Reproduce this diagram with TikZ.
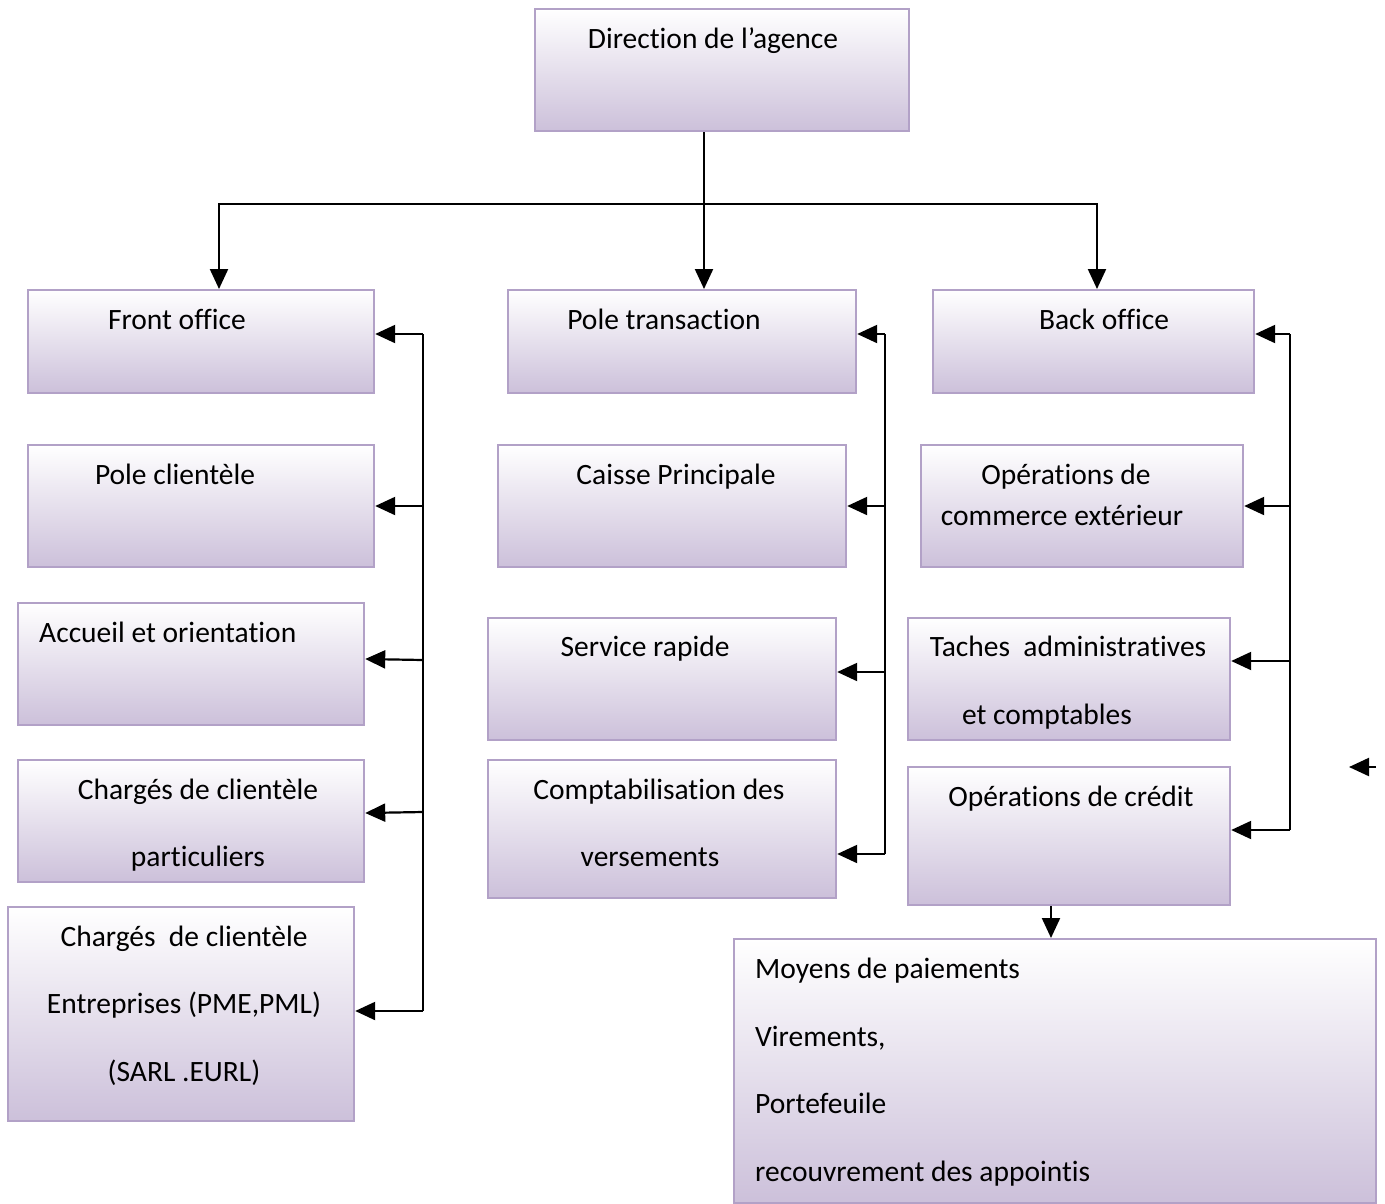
\documentclass[tikz,border=0pt]{standalone}
\usepackage{fontspec}
\setmainfont{Carlito}[RawFeature={-liga;-clig;-dlig}]
\usetikzlibrary{arrows.meta}
\definecolor{boxborder}{RGB}{178,161,199}
\definecolor{boxfill}{RGB}{204,192,218}
\begin{document}
\begin{tikzpicture}[x=1pt,y=-1pt,
  box/.style={draw=boxborder, line width=2.2pt, top color=white, bottom color=boxfill, inner sep=0pt, anchor=north west},
  txt/.style={font=\fontsize{29.5}{34}\selectfont, inner sep=0pt, anchor=mid, yshift=-8pt},
  ltxt/.style={font=\fontsize{29.5}{34}\selectfont, inner sep=0pt, anchor=mid west, yshift=-8pt},
  conn/.style={line width=2.2pt},
  arr/.style={line width=2.2pt, -{Triangle[length=20pt,width=18pt]}}]
\useasboundingbox (0,0) rectangle (1385,1203);
% boxes
\node[box, minimum width=374, minimum height=122] (dir) at (534,8) {};
\node[box, minimum width=346, minimum height=103] (fo) at (27,289) {};
\node[box, minimum width=348, minimum height=103] (pt) at (507,289) {};
\node[box, minimum width=321, minimum height=103] (bo) at (932,289) {};
\node[box, minimum width=346, minimum height=122] (pc) at (27,444) {};
\node[box, minimum width=348, minimum height=122] (cp) at (497,444) {};
\node[box, minimum width=322, minimum height=122] (oc) at (920,444) {};
\node[box, minimum width=346, minimum height=122] (ao) at (17,602) {};
\node[box, minimum width=348, minimum height=122] (sr) at (487,617) {};
\node[box, minimum width=322, minimum height=122] (ta) at (907,617) {};
\node[box, minimum width=346, minimum height=122] (cl) at (17,759) {};
\node[box, minimum width=348, minimum height=138] (cv) at (487,759) {};
\node[box, minimum width=322, minimum height=138] (cr) at (907,766) {};
\node[box, minimum width=346, minimum height=214] (ce) at (7,906) {};
\node[box, minimum width=642, minimum height=264] (mp) at (733,938) {};
% texts
\node[txt] (t1) at (713,38) {Direction de l’agence};
\node[txt] (t2) at (177,319) {Front office};
\node[txt] (t3) at (664,319) {Pole transaction};
\node[txt] (t4) at (1104,319) {Back office};
\node[txt] (t5) at (175,474) {Pole clientèle};
\node[txt] (t6) at (676,474) {Caisse Principale};
\node[txt] (t7) at (1066,474) {Opérations de};
\node[txt] (t8) at (1062,515) {commerce extérieur};
\node[ltxt] (t9) at (39,632) {Accueil et orientation};
\node[txt] (t10) at (645,646) {Service rapide};
\node[txt] (t11) at (1068,646) {Taches\ \ administratives};
\node[txt] (t12) at (1047,714) {et comptables};
\node[txt] (t13) at (198,789) {Chargés de clientèle};
\node[txt] (t14) at (198,856) {particuliers};
\node[txt] (t15) at (659,789) {Comptabilisation des};
\node[txt] (t16) at (650,856) {versements};
\node[txt] (t17) at (1071,796) {Opérations de crédit};
\node[txt] (t18) at (184,936) {Chargés\ \ de clientèle};
\node[txt] (t19) at (184,1003) {Entreprises (PME,PML)};
\node[txt] (t20) at (184,1071) {(SARL .EURL)};
\node[ltxt] (t21) at (755,968) {Moyens de paiements};
\node[ltxt] (t22) at (755,1036) {Virements,};
\node[ltxt] (t23) at (755,1103) {Portefeuile};
\node[ltxt] (t24) at (755,1171) {recouvrement des appointis};
% top connectors
\coordinate (j) at (704,204);
\coordinate (jl) at (219,204);
\coordinate (jr) at (1097,204);
\draw[arr] (dir.south -| j) -- (pt.north -| j);
\draw[arr] (j) -- (jl) -- (fo.north -| jl);
\draw[arr] (j) -- (jr) -- (bo.north -| jr);
% left bus
\coordinate (l1) at (423,334);
\coordinate (l2) at (423,506);
\coordinate (l3) at (423,660);
\coordinate (l4) at (423,812);
\coordinate (l5) at (423,1011);
\draw[conn] (l1) -- (l5);
\draw[arr] (l1) -- (l1 -| fo.east);
\draw[arr] (l2) -- (l2 -| pc.east);
\draw[arr] (l3) -- ([yshift=1pt]l3 -| ao.east);
\draw[arr] (l4) -- ([yshift=-1pt]l4 -| cl.east);
\draw[arr] (l5) -- (l5 -| ce.east);
% middle bus
\coordinate (m1) at (885,334);
\coordinate (m2) at (885,506);
\coordinate (m3) at (885,672);
\coordinate (m4) at (885,854);
\draw[conn] (m1) -- (m4);
\draw[arr] (m1) -- (m1 -| pt.east);
\draw[arr] (m2) -- (m2 -| cp.east);
\draw[arr] (m3) -- (m3 -| sr.east);
\draw[arr] (m4) -- (m4 -| cv.east);
% right bus
\coordinate (r1) at (1290,334);
\coordinate (r2) at (1290,506);
\coordinate (r3) at (1290,661);
\coordinate (r4) at (1290,830);
\draw[conn] (r1) -- (r4);
\draw[arr] (r1) -- (r1 -| bo.east);
\draw[arr] (r2) -- (r2 -| oc.east);
\draw[arr] (r3) -- (r3 -| ta.east);
\draw[arr] (r4) -- (r4 -| cr.east);
% credit to moyens
\coordinate (c1) at (1051,904);
\draw[arr] (c1 |- cr.south) -- (c1 |- mp.north);
% stray arrow
\coordinate (s1) at (1376,767);
\coordinate (s2) at (1349,767);
\draw[arr] (s1) -- (s2);
\end{tikzpicture}
\end{document}
